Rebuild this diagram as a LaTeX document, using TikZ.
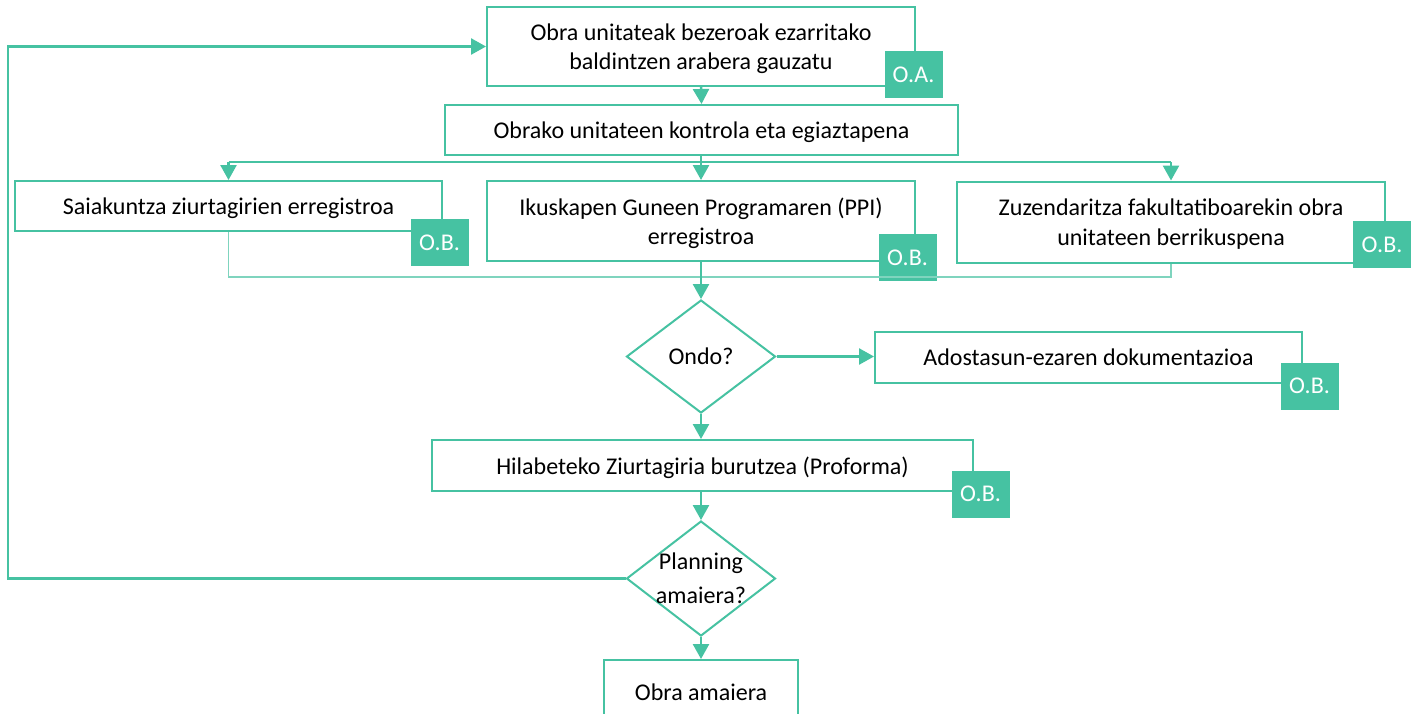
\documentclass[tikz,border=0pt]{standalone}
\usepackage{fontspec}
\setmainfont{Carlito}
\usetikzlibrary{arrows.meta,shapes.geometric}
\definecolor{flowgreen}{HTML}{46C2A2}
\definecolor{flowlight}{HTML}{7FD4BE}
\tikzset{
  box/.style={draw=flowgreen, line width=2pt, fill=white, align=center, inner sep=0pt,
    text depth=0pt, font=\fontsize{24}{29.5}\selectfont},
  tag/.style={fill=flowgreen, text=white, minimum width=58pt, minimum height=47pt,
    inner sep=0pt, text depth=0pt, font=\fontsize{24}{26}\selectfont},
  choice/.style={diamond, draw=flowgreen, line width=2pt, fill=white, align=center,
    inner sep=-12pt, aspect=1.3, font=\fontsize{24}{34}\selectfont},
  flow/.style={draw=flowgreen, line width=2.5pt,
    -{Triangle[width=16pt,length=15pt]}},
  wire/.style={draw=flowgreen, line width=2.5pt},
  thinwire/.style={draw=flowlight, line width=1.6pt}
}
\begin{document}
\begin{tikzpicture}[x=1pt,y=-1pt]
\clip (0,0) rectangle (1418,713);
\fill[white] (0,0) rectangle (1418,713);

% process boxes
\node[box, minimum width=428pt, minimum height=79pt] (a) at (701,46.5)
  {Obra unitateak bezeroak ezarritako\\baldintzen arabera gauzatu};
\node[box, minimum width=513pt, minimum height=50pt] (b) at (701.5,130)
  {Obrako unitateen kontrola eta egiaztapena};
\node[box, minimum width=427pt, minimum height=50pt] (c1) at (228.5,206)
  {Saiakuntza ziurtagirien erregistroa};
\node[box, minimum width=428pt, minimum height=80pt] (c2) at (701,221)
  {Ikuskapen Guneen Programaren (PPI)\\erregistroa};
\node[box, minimum width=428pt, minimum height=81pt] (c3) at (1171,222)
  {Zuzendaritza fakultatiboarekin obra\\unitateen berrikuspena};
\node[choice, minimum width=149pt, minimum height=113pt] (d1) at (701,356.5) {Ondo?};
\node[box, minimum width=427pt, minimum height=51pt] (e) at (1088.5,357.5)
  {Adostasun-ezaren dokumentazioa};
\node[box, minimum width=541pt, minimum height=51pt] (f) at (702.5,465.5)
  {Hilabeteko Ziurtagiria burutzea (Proforma)};
\node[choice, minimum width=149pt, minimum height=115pt] (d2) at (701,578.5)
  {Planning\\amaiera?};
\node[box, minimum width=194pt, minimum height=64pt] (g) at (701,692)
  {Obra amaiera};

% responsibility tags
\node[tag] (ta) at (913.5,74.5) {O.A.};
\node[tag] (t1) at (439.5,242.5) {O.B.};
\node[tag] (t2) at (907.5,257.5) {O.B.};
\node[tag] (t3) at (1382,244.5) {O.B.};
\node[tag] (t4) at (1309.5,386) {O.B.};
\node[tag] (t5) at (980.5,494) {O.B.};

% branching bus and merge bus
\coordinate (bus) at (701,162);
\coordinate (merge) at (701,277);
\coordinate (loop) at (8,46.5);

\draw[flow] (a.south) -- (b.north);
\draw[wire] (c1.north |- bus) -- (c3.north |- bus);
\draw[flow] (c1.north |- bus) -- (c1.north);
\draw[flow] (c3.north |- bus) -- (c3.north);
\draw[flow] (b.south -| c2.north) -- (c2.north);
\draw[thinwire] (c1.south) -- (c1.south |- merge) -- (c3.south |- merge) -- (c3.south);
\draw[flow] (c2.south) -- (d1.north);
\draw[flow] (d1.east) -- (d1.east -| e.west);
\draw[flow] (d1.south) -- (d1.south |- f.north);
\draw[flow] (d2.north |- f.south) -- (d2.north);
\draw[flow] (d2.south) -- (g.north);
\draw[flow] (d2.west) -| (loop) -- (a.west);
\end{tikzpicture}
\end{document}
